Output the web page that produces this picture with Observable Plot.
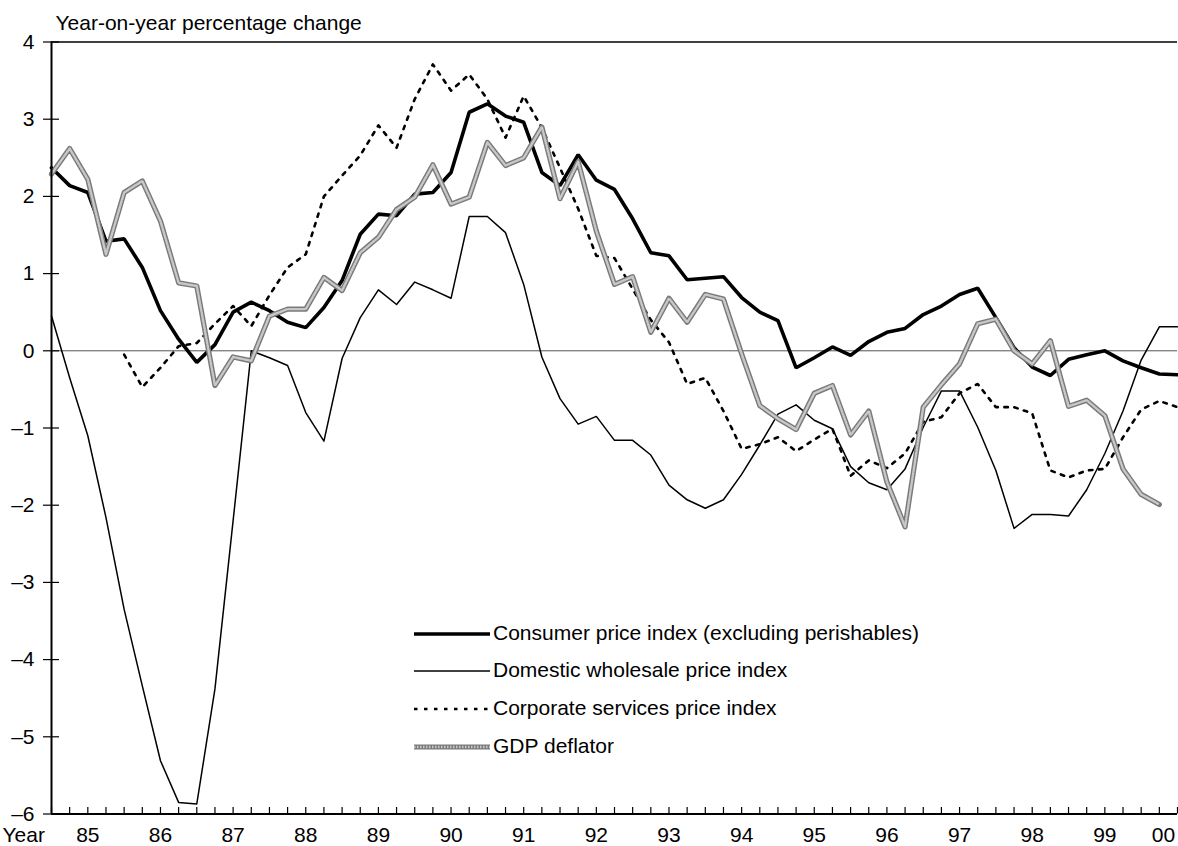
<!DOCTYPE html>
<html>
<head>
<meta charset="utf-8">
<script src="https://cdn.jsdelivr.net/npm/d3@7"></script>
<script src="https://cdn.jsdelivr.net/npm/@observablehq/plot@0.6"></script>
<style>
  body { margin: 0; background: #fff; font-family: "Liberation Sans", Arial, sans-serif; }
  #wrap { position: relative; width: 1178px; height: 846px; }
  #legend { position: absolute; left: 413px; top: 614px; font-size: 21px; color: #000; }
  #legend .row { display: flex; align-items: center; height: 37.6px; }
  #legend svg { display: block; margin-right: 3px; }
</style>
</head>
<body>
<div id="wrap"></div>
<script>
// Quarterly observations, index 0 = first quarter on the axis (1984 Q3), last = 2000 Q1
const cpi = [2.37, 2.14, 2.05, 1.42, 1.45, 1.08, 0.52, 0.15, -0.15, 0.08,
             0.50, 0.63, 0.52, 0.37, 0.30, 0.56, 0.91, 1.51, 1.77, 1.75,
             2.03, 2.05, 2.31, 3.09, 3.20, 3.04, 2.96, 2.31, 2.14, 2.54,
             2.21, 2.09, 1.71, 1.27, 1.23, 0.92, 0.94, 0.96, 0.69, 0.50,
             0.39, -0.22, -0.09, 0.05, -0.06, 0.12, 0.24, 0.29, 0.47, 0.58,
             0.73, 0.81, 0.43, 0.04, -0.21, -0.32, -0.11, -0.05, 0.00, -0.13,
             -0.22, -0.30, -0.31];
const wpi = [0.45, -0.35, -1.10, -2.16, -3.35, -4.34, -5.31, -5.85, -5.87, -4.38,
             -2.20, 0.00, -0.09, -0.19, -0.80, -1.17, -0.10, 0.43, 0.79, 0.60,
             0.89, 0.79, 0.68, 1.74, 1.74, 1.53, 0.86, -0.08, -0.62, -0.95,
             -0.85, -1.16, -1.16, -1.35, -1.74, -1.93, -2.04, -1.93, -1.60, -1.22,
             -0.82, -0.70, -0.90, -1.01, -1.50, -1.71, -1.80, -1.53, -0.99, -0.52,
             -0.52, -0.99, -1.55, -2.30, -2.12, -2.12, -2.14, -1.80, -1.33, -0.78,
             -0.12, 0.31, 0.31];
const cspi = [null, null, null, null, -0.05, -0.47, -0.22, 0.06, 0.10, 0.35,
              0.58, 0.32, 0.72, 1.08, 1.25, 2.00, 2.27, 2.53, 2.92, 2.63,
              3.26, 3.71, 3.37, 3.58, 3.26, 2.76, 3.30, 2.89, 2.37, 1.84,
              1.23, 1.20, 0.80, 0.40, 0.11, -0.43, -0.35, -0.78, -1.27, -1.21,
              -1.12, -1.30, -1.15, -1.01, -1.62, -1.42, -1.52, -1.33, -0.92, -0.86,
              -0.55, -0.43, -0.73, -0.73, -0.81, -1.55, -1.64, -1.55, -1.53, -1.12,
              -0.76, -0.65, -0.73];
const gdp = [2.29, 2.62, 2.22, 1.25, 2.05, 2.20, 1.68, 0.88, 0.84, -0.45,
             -0.08, -0.13, 0.45, 0.54, 0.54, 0.95, 0.78, 1.27, 1.47, 1.83,
             1.99, 2.41, 1.90, 1.99, 2.70, 2.40, 2.50, 2.90, 1.97, 2.45,
             1.55, 0.86, 0.96, 0.24, 0.68, 0.37, 0.73, 0.67, -0.04, -0.71,
             -0.88, -1.02, -0.55, -0.45, -1.09, -0.78, -1.70, -2.28, -0.73, -0.44,
             -0.17, 0.35, 0.41, 0.00, -0.17, 0.13, -0.72, -0.64, -0.84, -1.53,
             -1.86, -1.99, null];

const yearLabels = ["85","86","87","88","89","90","91","92","93","94","95","96","97","98","99"];
const yearLabelQuarter = [2, 6, 10, 14, 18, 22, 26, 30, 34, 38, 42, 46, 50, 54, 58];
const lastLabel = "00";
const lastLabelQuarter = 62;
const yTicks = [-6, -5, -4, -3, -2, -1, 0, 1, 2, 3, 4];
const legendNames = [
  "Consumer price index (excluding perishables)",
  "Domestic wholesale price index",
  "Corporate services price index",
  "GDP deflator"
];

const nQ = cpi.length;
const quarterIdx = d3.range(nQ);
const toPts = arr => arr.map((v, i) => ({q: i, v}));

const FONT = 21;
const pxPerQ = (1178 - 51 - 1) / (nQ - 1);
const pxPerUnit = (846 - 41.5 - 32.5) / 10;

const chart = Plot.plot({
  width: 1178,
  height: 846,
  marginLeft: 51,
  marginRight: 1,
  marginTop: 41.5,
  marginBottom: 32.5,
  style: {fontFamily: '"Liberation Sans", Arial, sans-serif', fontSize: FONT + "px", color: "#000", background: "#fff"},
  x: {domain: [0, nQ - 1], axis: null},
  y: {domain: [-6, 4], axis: null},
  marks: [
    // zero line
    Plot.ruleY([0], {stroke: "#555", strokeWidth: 1}),
    // series
    Plot.line(toPts(cpi), {x: "q", y: "v", stroke: "#000", strokeWidth: 3.6, strokeLinejoin: "miter"}),
    Plot.line(toPts(wpi), {x: "q", y: "v", stroke: "#000", strokeWidth: 1.5}),
    Plot.line(toPts(cspi), {x: "q", y: "v", stroke: "#000", strokeWidth: 2.6, strokeDasharray: "3.5 6.5"}),
    Plot.line(toPts(gdp), {x: "q", y: "v", stroke: "#7a7a7a", strokeWidth: 5.2}),
    Plot.line(toPts(gdp), {x: "q", y: "v", stroke: "#c8c8c8", strokeWidth: 2.4, strokeDasharray: "1.5 1.5"}),
    // frame lines: left, top, bottom
    Plot.ruleX([0], {stroke: "#000", strokeWidth: 2}),
    Plot.ruleY([4], {stroke: "#000", strokeWidth: 1.6}),
    Plot.ruleY([-6], {stroke: "#000", strokeWidth: 2}),
    // y ticks crossing the axis
    Plot.ruleY(yTicks, {x1: -8 / pxPerQ, x2: 8 / pxPerQ, stroke: "#000", strokeWidth: 1.2}),
    Plot.axisY(yTicks, {tickSize: 0, tickPadding: 17, fontSize: FONT, label: null,
      tickFormat: d => d < 0 ? "\u2013" + Math.abs(d) : String(d)}),
    // x quarter ticks pointing inward
    Plot.ruleX(quarterIdx, {y1: -6, y2: -6 + 6.5 / pxPerUnit, stroke: "#000", strokeWidth: 1.2}),
    // year labels
    Plot.text(yearLabels, {x: (d, i) => yearLabelQuarter[i], frameAnchor: "bottom", lineAnchor: "bottom", dy: 28, fontSize: FONT}),
    Plot.text([lastLabel], {x: () => lastLabelQuarter, frameAnchor: "bottom", lineAnchor: "bottom", dy: 28, dx: -14, fontSize: FONT}),
    Plot.text(["Year"], {frameAnchor: "bottom-left", textAnchor: "start", lineAnchor: "bottom", dx: -49, dy: 28, fontSize: FONT}),
    // axis title
    Plot.text(["Year-on-year percentage change"], {frameAnchor: "top-left", textAnchor: "start", lineAnchor: "bottom", dx: 4, dy: -12, fontSize: FONT})
  ]
});

const wrap = document.getElementById("wrap");
wrap.appendChild(chart);

// legend overlay
const legend = document.createElement("div");
legend.id = "legend";
const styles = [
  [{stroke: "#000", width: 3.6}],
  [{stroke: "#000", width: 1.5}],
  [{stroke: "#000", width: 2.6, dash: "3.5 6.5"}],
  [{stroke: "#7a7a7a", width: 5.2}, {stroke: "#c8c8c8", width: 2.4, dash: "1.5 1.5"}]
];
legendNames.forEach((name, i) => {
  const row = document.createElement("div");
  row.className = "row";
  const svg = d3.create("svg").attr("width", 77).attr("height", 12);
  styles[i].forEach(s => {
    svg.append("line").attr("x1", 1).attr("x2", 77).attr("y1", 7).attr("y2", 7)
      .attr("stroke", s.stroke).attr("stroke-width", s.width)
      .attr("stroke-dasharray", s.dash || null);
  });
  row.appendChild(svg.node());
  const span = document.createElement("span");
  span.textContent = name;
  row.appendChild(span);
  legend.appendChild(row);
});
wrap.appendChild(legend);
</script>
</body>
</html>
